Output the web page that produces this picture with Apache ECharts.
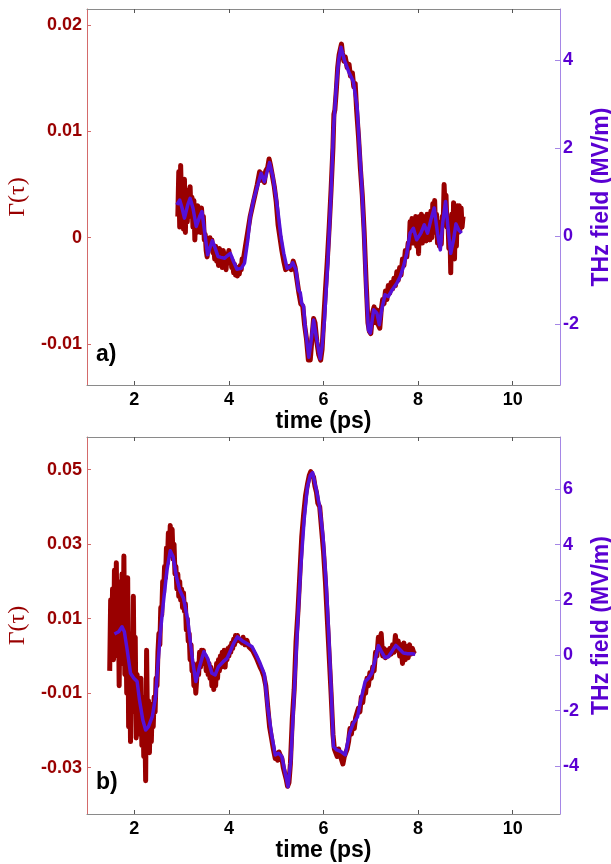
<!DOCTYPE html>
<html>
<head>
<meta charset="utf-8">
<script src="https://cdn.jsdelivr.net/npm/echarts@6/dist/echarts.min.js"></script>
<style>html,body{margin:0;padding:0;background:#fff;overflow:hidden;width:611px;height:864px;}#c{width:611px;height:864px;}</style>
</head>
<body>
<div id="c"></div>
<script>
// ---------- data ----------
var xTicks = [2, 4, 6, 8, 10];
var gammaTicksA = [-0.01, 0, 0.01, 0.02];
var fieldTicksA = [-2, 0, 2, 4];
var gammaTicksB = [-0.03, -0.01, 0.01, 0.03, 0.05];
var fieldTicksB = [-4, -2, 0, 2, 4, 6];
var panelLabels = ['a)', 'b)'];

// panel a) : measured Γ(τ) (time ps, value)
var gammaA = [
[2.92,0.0020],[2.94,0.0062],[2.96,0.0010],[2.98,0.0068],[3.00,0.0030],[3.02,0.0050],[3.04,0.0008],[3.06,0.0055],
[3.08,0.0005],[3.10,0.0045],[3.12,0.0015],[3.14,0.0040],[3.16,0.0030],[3.18,0.0048],[3.20,0.0020],[3.22,0.0038],
[3.24,0.0010],[3.26,0.0035],[3.28,-0.0002],[3.30,0.0025],[3.32,0.0005],[3.34,0.0030],[3.36,0.0010],[3.38,0.0028],
[3.40,0.0005],[3.42,0.0028],[3.44,0.0015],[3.46,0.0020],[3.48,-0.0002],[3.50,0.0003],[3.52,-0.0012],[3.54,-0.0018],
[3.56,-0.0005],[3.58,-0.0010],[3.60,0.0000],[3.62,-0.0006],[3.64,-0.0002],[3.66,-0.0014],[3.68,-0.0008],[3.70,-0.0020],
[3.72,-0.0008],[3.74,-0.0022],[3.76,-0.0012],[3.78,-0.0026],[3.80,-0.0010],[3.82,-0.0025],[3.84,-0.0015],[3.86,-0.0028],
[3.88,-0.0012],[3.90,-0.0024],[3.92,-0.0017],[3.94,-0.0030],[3.96,-0.0015],[3.98,-0.0024],[4.00,-0.0012],[4.02,-0.0024],
[4.04,-0.0018],[4.06,-0.0028],[4.08,-0.0022],[4.10,-0.0033],[4.12,-0.0025],[4.14,-0.0035],[4.16,-0.0028],[4.18,-0.0036],
[4.20,-0.0028],[4.22,-0.0034],[4.24,-0.0026],[4.26,-0.0030],[4.28,-0.0020],[4.30,-0.0022],[4.35,-0.0008],[4.40,0.0006],
[4.45,0.0020],[4.50,0.0030],[4.55,0.0040],[4.60,0.0050],[4.65,0.0062],[4.68,0.0054],[4.72,0.0060],[4.75,0.0052],
[4.78,0.0063],[4.82,0.0066],[4.85,0.0074],[4.88,0.0068],[4.92,0.0058],[4.96,0.0048],[5.00,0.0034],[5.04,0.0012],
[5.08,0.0000],[5.12,-0.0012],[5.16,-0.0022],[5.20,-0.0030],[5.24,-0.0031],[5.28,-0.0027],[5.32,-0.0030],[5.36,-0.0022],
[5.40,-0.0028],[5.44,-0.0040],[5.48,-0.0052],[5.52,-0.0062],[5.56,-0.0064],[5.60,-0.0082],[5.64,-0.0095],[5.68,-0.0115],
[5.70,-0.0108],[5.72,-0.0115],[5.75,-0.0098],[5.79,-0.0076],[5.82,-0.0080],[5.86,-0.0098],[5.90,-0.0110],[5.94,-0.0115],
[5.97,-0.0105],[6.00,-0.0080],[6.04,-0.0050],[6.08,-0.0022],[6.12,0.0010],[6.16,0.0045],[6.20,0.0085],[6.22,0.0116],
[6.24,0.0120],[6.27,0.0138],[6.30,0.0160],[6.33,0.0172],[6.36,0.0178],[6.38,0.0182],[6.40,0.0174],[6.43,0.0166],
[6.46,0.0170],[6.50,0.0160],[6.54,0.0163],[6.57,0.0152],[6.61,0.0155],[6.64,0.0142],[6.67,0.0145],[6.70,0.0120],
[6.74,0.0095],[6.78,0.0065],[6.82,0.0040],[6.86,0.0005],[6.90,-0.0040],[6.94,-0.0080],[6.97,-0.0088],[7.00,-0.0090],
[7.04,-0.0070],[7.07,-0.0065],[7.10,-0.0080],[7.13,-0.0068],[7.16,-0.0082],[7.19,-0.0085],[7.22,-0.0068],[7.25,-0.0058],
[7.28,-0.0062],[7.31,-0.0050],[7.34,-0.0058],[7.37,-0.0045],[7.40,-0.0052],[7.43,-0.0042],[7.46,-0.0048],[7.49,-0.0038],
[7.52,-0.0045],[7.55,-0.0032],[7.58,-0.0040],[7.61,-0.0028],[7.64,-0.0035],[7.67,-0.0020],[7.70,-0.0026],[7.73,-0.0012],
[7.76,-0.0018],[7.79,-0.0005],[7.81,-0.0010],[7.83,0.0015],[7.85,0.0005],[7.87,0.0018],[7.89,-0.0005],[7.91,0.0012],
[7.93,0.0000],[7.95,0.0020],[7.97,-0.0008],[7.99,0.0010],[8.01,-0.0015],[8.03,0.0020],[8.05,0.0000],[8.07,0.0022],
[8.09,-0.0005],[8.11,0.0018],[8.13,0.0005],[8.15,0.0020],[8.17,-0.0003],[8.19,0.0022],[8.21,0.0008],[8.23,0.0018],
[8.25,-0.0002],[8.27,0.0025],[8.29,0.0000],[8.31,0.0032],[8.33,0.0015],[8.35,0.0035],[8.37,0.0005],[8.39,0.0022],
[8.41,-0.0005],[8.43,0.0015],[8.45,-0.0008],[8.47,0.0010],[8.49,-0.0006],[8.51,0.0020],[8.53,0.0012],[8.55,0.0050],
[8.57,0.0028],[8.59,0.0040],[8.61,0.0010],[8.63,0.0018],[8.65,-0.0010],[8.67,0.0012],[8.69,-0.0033],[8.71,0.0022],
[8.73,-0.0015],[8.75,0.0033],[8.77,-0.0020],[8.79,0.0028],[8.81,-0.0008],[8.83,0.0030],[8.85,0.0005],[8.87,0.0030],
[8.89,0.0008],[8.91,0.0028],[8.93,0.0010],[8.95,0.0020]
];

// panel a) : THz field (time ps, MV/m)
var fieldA = [
[2.90,0.71],[2.96,0.82],[3.01,0.64],[3.06,0.41],[3.13,0.71],[3.18,0.86],[3.24,0.64],[3.31,0.22],[3.38,0.44],[3.43,0.56],
[3.49,0.07],[3.55,-0.42],[3.59,-0.39],[3.65,-0.10],[3.71,-0.27],[3.77,-0.46],[3.83,-0.48],[3.91,-0.50],[3.96,-0.45],[4.03,-0.39],
[4.10,-0.58],[4.17,-0.75],[4.26,-0.73],[4.33,-0.61],[4.40,-0.08],[4.45,0.44],[4.52,0.82],[4.61,1.16],[4.68,1.43],[4.75,1.24],
[4.82,1.51],[4.86,1.67],[4.93,1.35],[5.00,0.86],[5.05,0.44],[5.10,-0.01],[5.16,-0.39],[5.23,-0.73],[5.30,-0.69],[5.35,-0.60],
[5.42,-0.77],[5.47,-1.22],[5.51,-1.29],[5.54,-1.52],[5.58,-1.60],[5.61,-2.05],[5.65,-2.40],[5.69,-2.75],[5.73,-2.45],[5.79,-1.90],
[5.85,-2.30],[5.93,-2.78],[5.97,-2.50],[6.02,-1.90],[6.09,-0.61],[6.16,0.98],[6.21,2.41],[6.27,3.40],[6.32,4.00],[6.37,4.29],
[6.44,4.00],[6.53,3.74],[6.63,3.51],[6.71,2.94],[6.76,2.03],[6.81,1.13],[6.86,-0.01],[6.90,-1.14],[6.95,-2.13],[6.99,-2.20],
[7.06,-1.67],[7.13,-1.75],[7.18,-2.01],[7.23,-1.67],[7.30,-1.33],[7.37,-1.37],[7.45,-1.22],[7.55,-1.07],[7.62,-0.92],[7.69,-0.69],
[7.76,-0.39],[7.83,0.07],[7.90,0.18],[7.97,-0.08],[8.06,0.07],[8.13,0.26],[8.20,0.07],[8.27,0.37],[8.34,0.64],[8.41,0.07],
[8.47,-0.31],[8.52,0.30],[8.58,0.79],[8.63,0.22],[8.69,-0.39],[8.75,-0.08],[8.80,0.28],[8.86,0.14],[8.92,0.07]
];

// panel b) : measured Γ(τ)
var gammaB = [
[1.48,-0.0040],[1.50,0.0150],[1.52,0.0010],[1.54,0.0180],[1.56,-0.0010],[1.58,0.0230],[1.60,0.0050],[1.62,0.0250],
[1.64,0.0000],[1.66,0.0200],[1.68,-0.0080],[1.70,0.0150],[1.72,0.0030],[1.74,0.0220],[1.76,-0.0020],[1.78,0.0268],
[1.80,-0.0050],[1.82,0.0120],[1.84,-0.0100],[1.86,0.0210],[1.88,-0.0190],[1.90,0.0060],[1.92,-0.0230],[1.94,0.0000],
[1.96,-0.0150],[1.98,0.0160],[2.00,-0.0120],[2.02,0.0050],[2.04,-0.0220],[2.06,-0.0050],[2.08,-0.0180],[2.10,-0.0080],
[2.12,-0.0210],[2.14,-0.0060],[2.16,-0.0240],[2.18,-0.0110],[2.20,-0.0270],[2.22,-0.0150],[2.24,-0.0335],[2.26,0.0015],
[2.28,-0.0200],[2.30,-0.0120],[2.32,-0.0260],[2.34,-0.0140],[2.36,-0.0230],[2.38,-0.0130],[2.40,-0.0190],[2.42,-0.0110],
[2.44,-0.0150],[2.46,-0.0060],[2.48,-0.0080],[2.50,0.0010],[2.52,0.0060],[2.54,0.0030],[2.56,0.0130],[2.58,0.0110],
[2.60,0.0200],[2.62,0.0170],[2.64,0.0240],[2.66,0.0210],[2.68,0.0290],[2.70,0.0250],[2.72,0.0330],[2.74,0.0270],
[2.76,0.0350],[2.78,0.0290],[2.80,0.0340],[2.82,0.0260],[2.84,0.0300],[2.86,0.0220],[2.88,0.0240],[2.90,0.0180],
[2.92,0.0220],[2.94,0.0160],[2.96,0.0200],[2.98,0.0150],[3.00,0.0180],[3.02,0.0130],[3.04,0.0170],[3.06,0.0120],
[3.08,0.0140],[3.10,0.0070],[3.12,0.0100],[3.14,0.0040],[3.16,0.0060],[3.18,-0.0010],[3.20,0.0030],[3.22,-0.0040],
[3.24,-0.0020],[3.26,-0.0080],[3.28,-0.0050],[3.30,-0.0100],[3.32,-0.0060],[3.34,-0.0020],[3.36,-0.0050],[3.38,0.0010],
[3.40,-0.0030],[3.42,0.0015],[3.44,-0.0010],[3.46,0.0015],[3.48,-0.0020],[3.50,0.0000],[3.52,-0.0040],[3.54,-0.0010],
[3.56,-0.0050],[3.58,-0.0020],[3.60,-0.0060],[3.62,-0.0030],[3.64,-0.0080],[3.66,-0.0050],[3.68,-0.0090],[3.70,-0.0040],
[3.72,-0.0080],[3.74,-0.0020],[3.76,-0.0060],[3.78,-0.0010],[3.80,-0.0040],[3.82,0.0000],[3.84,-0.0030],[3.86,0.0010],
[3.88,-0.0020],[3.90,0.0015],[3.92,-0.0030],[3.94,0.0010],[3.96,-0.0010],[3.98,0.0020],[4.00,0.0000],[4.02,0.0025],
[4.04,0.0010],[4.06,0.0035],[4.08,0.0020],[4.10,0.0045],[4.12,0.0030],[4.14,0.0055],[4.16,0.0040],[4.18,0.0055],
[4.20,0.0045],[4.24,0.0050],[4.28,0.0035],[4.30,0.0050],[4.34,0.0030],[4.38,0.0042],[4.42,0.0025],[4.46,0.0030],
[4.50,0.0015],[4.54,0.0020],[4.58,-0.0005],[4.62,-0.0010],[4.66,-0.0030],[4.70,-0.0040],[4.74,-0.0055],[4.78,-0.0080],
[4.82,-0.0135],[4.86,-0.0190],[4.90,-0.0220],[4.94,-0.0250],[4.98,-0.0275],[5.00,-0.0262],[5.03,-0.0280],[5.06,-0.0258],
[5.09,-0.0268],[5.12,-0.0275],[5.15,-0.0300],[5.18,-0.0315],[5.21,-0.0330],[5.24,-0.0350],[5.27,-0.0340],[5.30,-0.0290],
[5.34,-0.0170],[5.38,-0.0090],[5.42,0.0040],[5.46,0.0120],[5.50,0.0220],[5.54,0.0320],[5.58,0.0380],[5.62,0.0430],
[5.66,0.0460],[5.70,0.0485],[5.73,0.0495],[5.76,0.0490],[5.79,0.0480],[5.82,0.0455],[5.85,0.0440],[5.88,0.0410],
[5.92,0.0400],[5.96,0.0340],[6.00,0.0280],[6.04,0.0200],[6.08,0.0100],[6.12,0.0000],[6.16,-0.0100],[6.20,-0.0210],
[6.23,-0.0250],[6.26,-0.0245],[6.29,-0.0270],[6.32,-0.0250],[6.35,-0.0265],[6.38,-0.0260],[6.41,-0.0290],[6.44,-0.0270],
[6.47,-0.0275],[6.50,-0.0250],[6.53,-0.0230],[6.56,-0.0195],[6.59,-0.0210],[6.62,-0.0180],[6.65,-0.0195],[6.68,-0.0165],
[6.71,-0.0170],[6.74,-0.0140],[6.77,-0.0150],[6.80,-0.0110],[6.83,-0.0125],[6.86,-0.0090],[6.89,-0.0100],[6.92,-0.0060],
[6.95,-0.0080],[6.98,-0.0045],[7.01,-0.0060],[7.04,-0.0030],[7.07,-0.0040],[7.10,0.0010],[7.13,0.0000],[7.16,0.0050],
[7.19,0.0030],[7.22,0.0060],[7.25,0.0000],[7.28,0.0020],[7.31,-0.0005],[7.34,0.0015],[7.37,0.0000],[7.40,0.0020],
[7.43,0.0005],[7.46,0.0030],[7.49,0.0010],[7.52,0.0055],[7.55,0.0015],[7.58,0.0040],[7.61,0.0000],[7.64,0.0030],
[7.67,-0.0020],[7.70,0.0035],[7.73,-0.0010],[7.76,0.0025],[7.79,-0.0005],[7.82,0.0030],[7.85,0.0005],[7.88,0.0020],
[7.91,0.0008],[7.94,0.0005]
];

// panel b) : THz field
var fieldB = [
[1.58,0.77],[1.67,0.85],[1.74,1.03],[1.79,0.85],[1.85,0.19],[1.92,-0.65],[1.99,-0.83],[2.06,-0.95],[2.11,-1.62],[2.18,-2.34],
[2.24,-2.70],[2.30,-2.58],[2.38,-2.22],[2.45,-1.50],[2.49,-0.53],[2.55,0.80],[2.62,2.00],[2.69,3.08],[2.76,3.78],[2.82,3.56],
[2.89,2.84],[2.96,2.36],[3.04,2.06],[3.13,1.28],[3.18,0.55],[3.24,-0.29],[3.30,-0.95],[3.38,-0.41],[3.47,0.13],[3.55,-0.11],
[3.64,-0.65],[3.71,-0.71],[3.78,-0.41],[3.88,-0.23],[3.96,-0.11],[4.04,0.19],[4.10,0.43],[4.18,0.67],[4.28,0.53],[4.38,0.43],
[4.49,0.31],[4.58,0.01],[4.66,-0.29],[4.75,-0.68],[4.82,-1.86],[4.91,-2.94],[4.98,-3.60],[5.05,-3.54],[5.12,-3.66],[5.19,-4.26],
[5.25,-4.75],[5.31,-3.78],[5.38,-1.37],[5.45,1.03],[5.52,3.20],[5.59,4.89],[5.66,6.09],[5.72,6.50],[5.77,6.60],[5.85,5.97],
[5.92,5.37],[5.99,4.29],[6.06,2.48],[6.11,0.80],[6.16,-1.13],[6.21,-3.30],[6.28,-3.42],[6.37,-3.48],[6.46,-3.60],[6.55,-2.82],
[6.63,-2.46],[6.72,-2.22],[6.79,-1.62],[6.88,-0.95],[6.95,-0.83],[7.02,-0.65],[7.09,-0.17],[7.16,0.35],[7.22,0.15],[7.30,-0.08],
[7.37,-0.05],[7.45,0.15],[7.53,0.36],[7.61,0.22],[7.69,0.08],[7.78,0.06],[7.87,0.06],[7.94,0.04]
];

// ---------- styling ----------
var RED = '#990000', BLUE = '#5510d8', PURPLE = '#5a00d2';
var FONT = 'Liberation Sans';

function xAxes(gi) {
  return [
    { type:'value', gridIndex:gi, min:1, max:11, position:'bottom',
      name:'time (ps)', nameLocation:'middle', nameGap:22,
      nameTextStyle:{ color:'#000', fontSize:23, fontWeight:'bold', fontFamily:FONT },
      axisLine:{ onZero:false, lineStyle:{ color:'#8a8a8a', width:1 } },
      axisTick:{ inside:true, length:4, customValues:xTicks, lineStyle:{ color:'#555' } },
      axisLabel:{ customValues:xTicks, margin:6, color:'#000', fontSize:18, fontWeight:'bold', fontFamily:FONT },
      splitLine:{ show:false } },
    { type:'value', gridIndex:gi, min:1, max:11, position:'top',
      axisLine:{ onZero:false, lineStyle:{ color:'#8a8a8a', width:1 } },
      axisTick:{ inside:true, length:4, customValues:xTicks, lineStyle:{ color:'#555' } },
      axisLabel:{ show:false }, splitLine:{ show:false } }
  ];
}
function leftAxis(gi, mn, mx, ticks) {
  return { type:'value', gridIndex:gi, position:'left', min:mn, max:mx,
    name:'Γ(τ)', nameLocation:'middle', nameGap:47,
    nameTextStyle:{ color:RED, fontSize:24, fontFamily:'Liberation Serif' },
    axisLine:{ show:true, onZero:false, lineStyle:{ color:'#d46a6a', width:1 } },
    axisTick:{ inside:true, length:4, customValues:ticks, lineStyle:{ color:'#d46a6a' } },
    axisLabel:{ customValues:ticks, margin:5, color:RED, fontSize:18, fontWeight:'bold', fontFamily:FONT,
      formatter:function(v){ return v===0 ? '0' : String(+v.toFixed(3)); } },
    splitLine:{ show:false } };
}
function rightAxis(gi, mn, mx, ticks) {
  return { type:'value', gridIndex:gi, position:'right', min:mn, max:mx,
    name:'THz field (MV/m)', nameLocation:'middle', nameGap:19, nameRotate:90,
    nameTextStyle:{ color:PURPLE, fontSize:23, fontWeight:'bold', fontFamily:FONT },
    axisLine:{ show:true, onZero:false, lineStyle:{ color:'#a586e6', width:1 } },
    axisTick:{ inside:true, length:5, customValues:ticks, lineStyle:{ color:'#a586e6' } },
    axisLabel:{ customValues:ticks, margin:3, color:PURPLE, fontSize:18, fontWeight:'bold', fontFamily:FONT },
    splitLine:{ show:false } };
}
function series(data, xi, yi, color, w, z) {
  return { type:'line', data:data, xAxisIndex:xi, yAxisIndex:yi, showSymbol:false, symbol:'none',
    smooth:false, z:z, lineStyle:{ color:color, width:w, join:'round' }, animation:false };
}

var option = {
  backgroundColor:'#fff',
  animation:false,
  grid:[ { left:87, right:51, top:9, height:376, outerBoundsMode:'none', containLabel:false },
         { left:87, right:51, top:437, height:377, outerBoundsMode:'none', containLabel:false } ],
  xAxis: xAxes(0).concat(xAxes(1)),
  yAxis:[
    leftAxis(0, -0.01384, 0.0215, gammaTicksA),
    rightAxis(0, -3.378, 5.158, fieldTicksA),
    leftAxis(1, -0.04243, 0.05878, gammaTicksB),
    rightAxis(1, -5.735, 7.89, fieldTicksB)
  ],
  series:[
    series(gammaA, 0, 0, RED, 5, 2),
    series(fieldA, 0, 1, BLUE, 3.5, 3),
    series(gammaB, 2, 2, RED, 5, 2),
    series(fieldB, 2, 3, BLUE, 3.5, 3)
  ],
  graphic:[
    { type:'text', left:96, top:343, style:{ text:panelLabels[0], fill:'#000', font:'bold 23px "Liberation Sans"' } },
    { type:'text', left:96, top:771, style:{ text:panelLabels[1], fill:'#000', font:'bold 23px "Liberation Sans"' } }
  ]
};
var chart = echarts.init(document.getElementById('c'), null, { renderer:'canvas', width:611, height:864 });
chart.setOption(option);
</script>
</body>
</html>
